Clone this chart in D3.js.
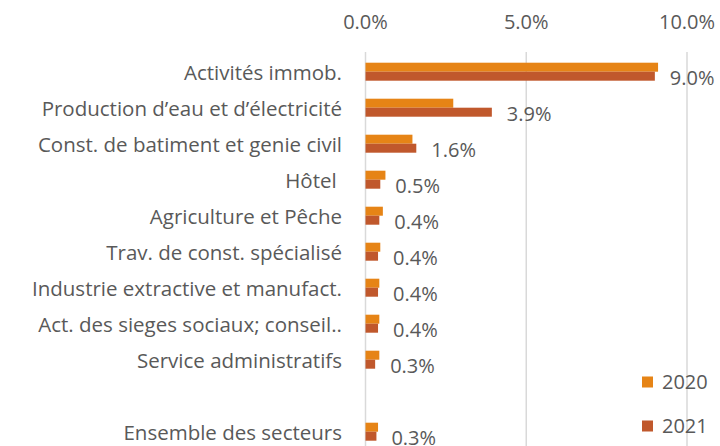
<!DOCTYPE html>
<html>
<head>
<meta charset="utf-8">
<script src="https://cdn.jsdelivr.net/npm/d3@7"></script>
<style>
  body { margin: 0; background: #fff; }
  svg { display: block; font-family: "Open Sans", sans-serif; }
</style>
</head>
<body>
<svg id="chart" width="720" height="446"></svg>
<script>
// categories, top to bottom ("" is the empty slot before the total)
const categories = [
    "Activités immob.",
    "Production d’eau et d’électricité",
    "Const. de batiment et genie civil",
    "Hôtel ",
    "Agriculture et Pêche",
    "Trav. de const. spécialisé",
    "Industrie extractive et manufact.",
    "Act. des sieges sociaux; conseil..",
    "Service administratifs",
    "",
    "Ensemble des secteurs"
];
const values2020 = [9.1, 2.73, 1.46, 0.62, 0.54, 0.46, 0.43, 0.43, 0.43, null, 0.39];
const values2021 = [9.0, 3.93, 1.58, 0.46, 0.43, 0.39, 0.39, 0.39, 0.30, null, 0.34];
const seriesNames = ["2020", "2021"];
const xTicks = [0, 5, 10];

const colors = { "2020": "#e68416", "2021": "#c0582c" };
const textColor = "#595959";

const W = 720, H = 446;
const svg = d3.select("#chart");

let x = d3.scaleLinear().domain([0, 10]).range([365.5, 687]);
let y = d3.scaleBand().domain(d3.range(categories.length)).range([53.7, 449.7]).paddingInner(0.5).paddingOuter(0.25);
let ySub = d3.scaleBand().domain(seriesNames).range([0, y.bandwidth()]);

// gridlines
svg.append("g").selectAll("line")
   .data(xTicks)
   .join("line")
   .attr("x1", d => x(d)).attr("x2", d => x(d))
   .attr("y1", 52).attr("y2", H)
   .style("stroke", "#d9d9d9")
   .style("stroke-width", 1.5);

// top axis labels
svg.append("g").selectAll("text")
   .data(xTicks)
   .join("text")
   .attr("x", d => x(d))
   .attr("y", 29)
   .attr("text-anchor", "middle")
   .style("font-size", "20px")
   .style("fill", textColor)
   .text(d => d3.format(".1f")(d) + "%");

// category labels
svg.append("g").selectAll("text")
   .data(categories)
   .join("text")
   .attr("x", 342)
   .attr("y", (d, i) => y(i) + y.bandwidth() / 2 + 1)
   .attr("dy", "0.35em")
   .attr("text-anchor", "end")
   .style("font-size", "20.5px")
   .style("white-space", "pre")
   .style("fill", textColor)
   .text(d => d);

// bars
const series = { "2020": values2020, "2021": values2021 };
seriesNames.forEach(s => {
    svg.append("g").selectAll("rect")
       .data(series[s].map((v, i) => ({ v: v, i: i })).filter(d => d.v !== null))
       .join("rect")
       .attr("x", x(0))
       .attr("y", d => y(d.i) + ySub(s))
       .attr("width", d => x(d.v) - x(0))
       .attr("height", ySub.bandwidth())
       .style("fill", colors[s]);
});

// value labels (2021)
svg.append("g").selectAll("text")
   .data(values2021.map((v, i) => ({ v: v, i: i })).filter(d => d.v !== null))
   .join("text")
   .attr("x", d => x(d.v) + 15)
   .attr("y", d => y(d.i) + ySub("2021") + ySub.bandwidth() / 2 + 2)
   .attr("dy", "0.35em")
   .style("font-size", "20px")
   .style("fill", textColor)
   .text(d => d3.format(".1f")(d.v) + "%");

// legend
const legend = svg.append("g").selectAll("g")
   .data(seriesNames)
   .join("g")
   .attr("transform", (d, i) => "translate(642," + (382 + i * 44) + ")");
legend.append("rect")
   .attr("x", 0).attr("y", -5.5)
   .attr("width", 11).attr("height", 11)
   .style("fill", d => colors[d]);
legend.append("text")
   .attr("x", 20)
   .attr("dy", "0.35em")
   .style("font-size", "20px")
   .style("fill", textColor)
   .text(d => d);
</script>
</body>
</html>
